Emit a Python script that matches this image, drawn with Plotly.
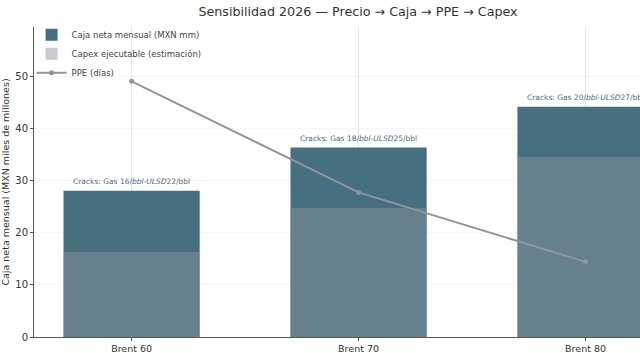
import plotly.graph_objects as go

categories = ["Brent 60", "Brent 70", "Brent 80"]
caja_neta = [28.0, 36.3, 44.1]
capex = [16.3, 24.7, 34.5]
ppe_dias = [49.0, 27.7, 14.4]
crack_gas = [16, 18, 20]
crack_ulsd = [22, 25, 27]
y_ticks = [0, 10, 20, 30, 40, 50]

x = list(range(len(categories)))
FONT = "DejaVu Sans, Verdana, sans-serif"

fig = go.Figure()
fig.add_trace(go.Bar(
    x=x, y=caja_neta, width=0.6, name="Caja neta mensual (MXN mm)",
    marker=dict(color="#466f80", line=dict(width=0)),
))
fig.add_trace(go.Bar(
    x=x, y=capex, width=0.6, name="Capex ejecutable (estimación)",
    marker=dict(color="rgba(140,146,156,0.48)", line=dict(width=0)),
))
fig.add_trace(go.Scatter(
    x=x, y=ppe_dias, mode="lines+markers", name="PPE (días)",
    line=dict(color="#8e969c", width=2),
    marker=dict(color="#8e969c", size=5),
))

for xi, top, g, u in zip(x, caja_neta, crack_gas, crack_ulsd):
    fig.add_annotation(
        x=xi, y=top, yanchor="bottom", yshift=3, showarrow=False,
        text=f"Cracks: Gas {g}/<i>bbl</i>-<i>ULSD</i>{u}/bbl",
        font=dict(family=FONT, size=7.5, color="#4a6b7a"),
    )

fig.update_layout(
    width=640, height=353,
    margin=dict(l=34, r=0, t=27, b=16),
    paper_bgcolor="white", plot_bgcolor="white",
    barmode="overlay",
    showlegend=True,
    title=dict(
        text="Sensibilidad 2026 — Precio → Caja → PPE → Capex",
        x=358 / 640, xanchor="center", xref="container",
        y=1 - 12 / 353, yanchor="middle", yref="container",
        font=dict(family=FONT, size=12.7, color="#333333"),
    ),
    legend=dict(
        x=-0.004, y=1.022, xanchor="left", yanchor="top",
        bgcolor="rgba(255,255,255,0)",
        font=dict(family=FONT, size=8.5, color="#444444"),
        tracegroupgap=0, itemwidth=30,
    ),
    font=dict(family=FONT),
)

fig.update_xaxes(
    range=[-0.43, 2.24], tickmode="array", tickvals=x, ticktext=categories,
    showgrid=True, gridcolor="rgba(200,200,200,0.45)", gridwidth=1,
    layer="above traces",
    showline=True, linecolor="#555555", linewidth=1,
    ticks="outside", ticklen=3, tickcolor="#555555",
    tickfont=dict(family=FONT, size=9.5, color="#333333"),
    zeroline=False,
)
fig.update_yaxes(
    range=[0, 59.4], tickmode="array", tickvals=y_ticks,
    showgrid=True, gridcolor="rgba(225,225,225,0.3)", gridwidth=1,
    showline=True, linecolor="#555555", linewidth=1,
    ticks="outside", ticklen=3, tickcolor="#555555",
    tickfont=dict(family=FONT, size=10, color="#333333"),
    title=dict(text="Caja neta mensual (MXN miles de millones)", standoff=4,
               font=dict(family=FONT, size=9.5, color="#333333")),
    zeroline=False,
)

fig.write_html("out.html")
